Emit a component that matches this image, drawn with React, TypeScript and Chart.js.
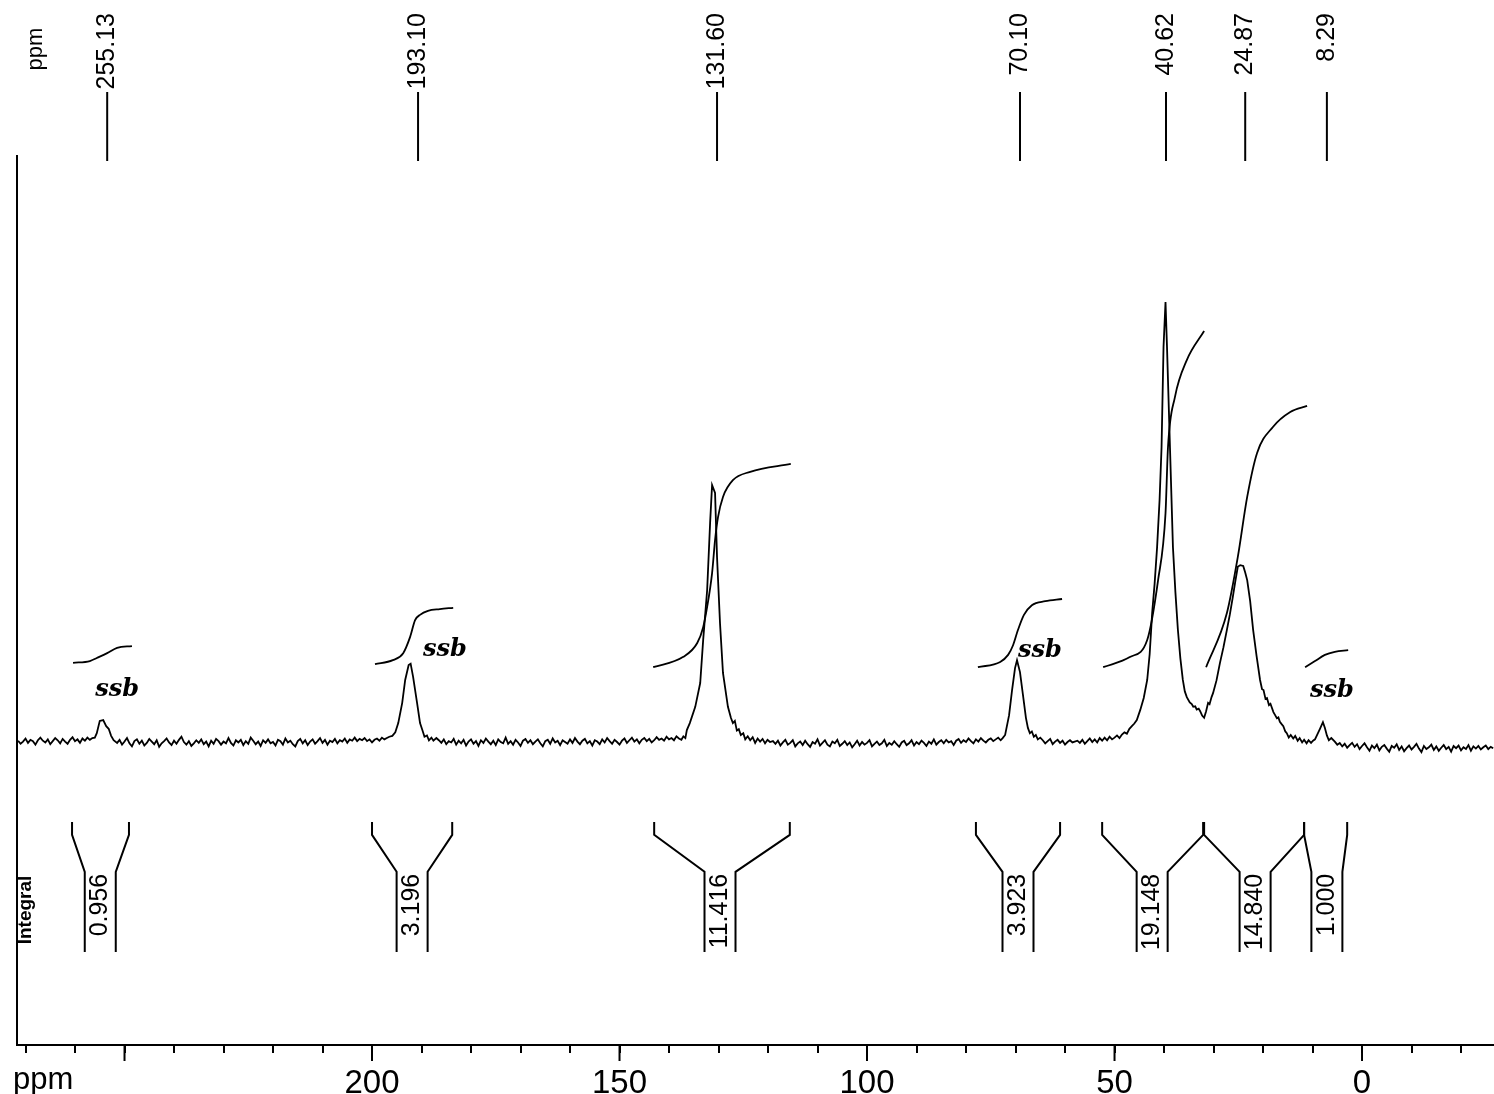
import { useEffect, useRef } from 'react';
import { Chart, registerables } from 'chart.js';

Chart.register(...registerables);

const FONT = '"Liberation Sans", Arial, sans-serif';

// ---- axis ----
const X_MIN = -26.66;
const X_MAX = 271.72;
const Y_MIN = -68.86;
const Y_MAX = 133.41;
const TICK_STEP = 10;
const LABELLED_TICKS = [200, 150, 100, 50, 0];

// ---- peak labels (top): printed value and where its marker stands on the ppm axis ----
const peakLabelText = ['255.13', '193.10', '131.60', '70.10', '40.62', '24.87', '8.29'];
const peakLabelAt = [253.5, 190.7, 130.3, 69.1, 39.6, 23.6, 7.1];

// ---- integrals (bottom brackets) ----
const integralText = ['0.956', '3.196', '11.416', '3.923', '19.148', '14.840', '1.000'];
const integralFrom = [260.6, 200.0, 143.0, 78.0, 52.5, 31.9, 11.7];
const integralTo = [249.1, 183.8, 115.6, 61.0, 32.1, 11.7, 3.0];
const integralCenter = [254.9, 191.9, 129.7, 69.5, 42.4, 21.6, 7.1];

// ---- spinning side band notes ----
const ssbPpm = [251.5, 185.3, 65.1, 6.1];
const ssbVal = [11.8, 20.9, 20.7, 11.6];
const ssbText = ['ssb', 'ssb', 'ssb', 'ssb'];

// ---- spectrum: baseline noise segments (start ppm, 0.5 ppm spacing) ----
const NOISE_STEP = 0.5;
const noiseA = [
  0.3, -0.4, 0.1, 0.8, -0.2, 0.5, 0.2, -0.6, 0.4, 1.0,
  0.3, -0.1, 0.6, -0.5, 0.2, 0.9, 0.4, -0.3, 0.7, 0.1,
  -0.4, 0.5, 1.1, 0.2, 0.6, -0.2, 0.8, 0.3, 1.0, 0.5, 0.9,
];
const noiseB = [
  -0.2, 0.5, -0.6, 0.1, 0.9, -0.3, -1.0, 0.2, 0.6, -0.4,
  0.3, -0.8, -0.2, 0.7, 0.1, -0.5, 0.4, -1.1, -0.3, 0.2,
  0.8, -0.1, -0.7, 0.3, -0.4, 0.5, 1.2, 0.0, -0.6, 0.2,
  -0.9, -0.3, 0.4, -0.2, 0.6, -0.5, 0.1, -1.0, 0.3, -0.4,
  0.7, 0.2, -0.6, 0.1, -0.3, 0.9, -0.2, -0.8, 0.4, -0.1,
  0.5, -0.7, 0.2, -0.4, 1.0, 0.3, -0.5, 0.1, -0.9, 0.4,
  -0.2, 0.6, -0.3, 0.0, -0.8, 0.5, 0.2, -0.6, 0.8, -0.1,
  0.3, -0.5, -1.0, 0.2, 0.7, -0.3, 0.4, -0.7, 0.1, 0.6,
  -0.4, 0.2, 0.9, -0.2, 0.5, -0.6, 0.3, 0.0, 0.7, -0.3,
  0.4, 0.1, 0.8, -0.2, 0.6, 0.3, 1.0, 0.2, 0.7, 0.4,
  0.9, 0.2, 0.6, -0.1, 0.5, 0.8, 0.3, 1.0, 0.6, 0.9,
  1.2,
];
const noiseC = [
  0.9, 0.4, -0.2, 0.6, -0.5, 0.2, -0.1, 0.7, -0.6, 0.3,
  -0.3, 0.5, -0.8, 0.1, 0.6, -0.4, 0.2, -0.9, 0.4, -0.2,
  0.8, 0.1, -0.5, 0.3, -0.7, 0.6, 0.0, -0.3, 1.0, -0.4,
  0.2, -0.6, 0.5, -0.1, -0.9, 0.3, 0.7, -0.2, 0.4, -0.5,
  0.1, 0.6, -0.3, -1.0, 0.2, 0.5, -0.4, 0.8, -0.1, 0.3,
  -0.7, 0.4, 0.0, -0.4, 0.6, -0.2, 0.9, 0.1, -0.5, 0.3,
  0.7, -0.3, 0.2, -0.8, 0.4, 0.1, -0.5, 0.6, -0.1, 0.9,
  0.2, -0.4, 0.5, 0.0, -0.6, 0.3, 0.8, -0.2, 0.4, 1.0,
  0.1, 0.6, -0.3, 0.5, 0.9, 0.2, 0.7, -0.1, 0.4, 1.1,
  0.5, 0.8, 0.3, 1.2, 0.6, 0.9, 0.4, 1.3, 0.8,
];
const noiseD = [
  0.2, -0.4, 0.3, -0.8, -0.1, 0.5, -0.6, -0.2, 0.4, -1.0,
  -0.3, 0.1, -0.7, 0.3, -0.5, -1.1, 0.0, -0.4, 0.6, -0.8,
  -0.2, 0.4, -0.6, -1.0, 0.1, -0.3, 0.5, -0.9, -0.4, 0.2,
  -0.7, -0.1, -1.2, -0.5, 0.3, -0.8, 0.0, -0.6, -0.2, 0.4,
  -1.0, -0.4, 0.1, -0.7, -0.3, 0.5, -0.9, -0.2, -0.6, 0.2,
  -0.5, -1.1, -0.1, 0.3, -0.7, -0.3, 0.4, -0.8, 0.0, -0.5,
  0.3, -0.2, -0.9, 0.1, -0.4, 0.6, -0.6, 0.0, 0.4, -0.3,
  0.5, -0.1, 0.2, -0.7, 0.3, 0.7, -0.2, 0.4, 0.0, 0.8,
  0.2, -0.3, 0.6, 0.1, 0.9, 0.3, -0.1, 0.5, 0.8, 0.2,
  0.6, 1.0, 0.4,
];
const noiseE = [0.4, -0.3, 0.2, 0.7, -0.5, 0.1, 0.5, -0.2, 0.3, -0.6, 0.0, 0.4, -0.1];
const noiseF = [
  0.1, -0.6, -0.2, -1.0, -0.4, -1.3, -0.7, -0.2, -1.1, -0.5,
  -1.6, -0.9, -0.3, -1.2, -2.0, -0.8, -1.4, -0.6, -1.9, -1.1,
  -0.7, -1.5, -2.2, -0.9, -1.3, -0.5, -1.8, -1.0, -2.1, -1.4,
  -0.8, -1.7, -1.1, -0.4, -1.5, -2.3, -0.9, -1.6, -1.2, -0.6,
  -1.8, -1.0, -2.0, -1.3, -0.7, -1.6, -1.1, -2.2, -0.9, -1.4,
  -0.8, -1.9, -1.2, -1.6, -0.7, -2.0, -1.0, -1.5, -0.9, -1.7,
  -1.2, -0.8, -1.6, -1.1, -1.4,
];

// ---- spectrum: peak regions [ppm, intensity] ----
const peak255: [number, number][] = [
  [256.0, 1.0], [255.6, 2.0], [255.0, 4.8], [254.3, 5.0], [253.7, 3.6], [253.2, 3.0], [252.7, 1.4], [252.2, 0.4],
];
const peak193: [number, number][] = [
  [195.9, 1.4], [195.3, 2.2], [194.7, 4.3], [193.9, 8.9], [193.3, 14.1], [192.6, 17.5], [192.2, 17.8],
  [191.7, 14.8], [190.9, 8.9], [190.3, 4.3], [189.8, 2.6], [189.4, 1.2], [188.9, 1.5], [188.5, 0.4], [188.0, 1.0], [187.6, 0.3],
];
const peak131: [number, number][] = [
  [137.5, 0.5], [137.1, 1.3], [136.7, 0.9], [136.4, 2.7], [135.8, 4.3], [134.7, 8.0], [133.7, 13.4], [133.1, 23.2],
  [132.3, 34.5], [131.7, 49.8], [131.3, 58.4], [130.7, 56.6], [130.3, 42.0], [129.7, 27.0], [129.1, 15.7],
  [128.1, 8.0], [127.5, 5.5], [127.1, 4.3], [126.7, 4.8], [126.3, 2.6], [125.9, 2.9], [125.5, 1.6],
  [125.0, 2.0], [124.6, 0.6], [124.1, 1.3], [123.6, 0.4], [123.1, 1.1], [122.6, -0.2], [122.1, 0.8],
  [121.6, 0.1], [121.1, 0.7], [120.6, -0.3], [120.1, 0.5], [119.6, 0.0],
];
const peak70: [number, number][] = [
  [72.6, 0.9], [72.1, 1.6], [71.3, 6.1], [70.7, 11.8], [70.1, 16.8], [69.7, 18.6], [69.1, 15.9],
  [68.5, 10.7], [67.9, 5.5], [67.5, 3.2], [67.1, 2.0], [66.7, 2.4], [66.3, 1.2], [65.9, 1.6], [65.5, 0.6], [65.0, 1.0],
];
const peakAliphatic: [number, number][] = [
  [57.5, 0.3], [57.0, -0.2], [56.5, 0.5], [56.0, -0.4], [55.5, 0.2], [55.0, 0.8], [54.5, 0.0], [54.0, 0.6],
  [53.5, -0.1], [53.0, 0.9], [52.5, 0.3], [52.0, 1.0], [51.5, 0.4], [51.0, 1.2], [50.5, 0.6], [50.0, 1.0],
  [49.5, 1.5], [49.0, 0.9], [48.5, 1.7], [48.0, 2.2], [47.5, 1.9], [47.0, 3.0], [46.5, 3.6], [46.0, 4.2],
  [45.5, 5.0], [44.8, 7.3], [44.1, 10.0], [43.4, 14.1],
  [42.9, 20.0], [42.4, 29.3], [41.9, 36.0], [41.4, 44.3], [40.9, 55.0], [40.5, 67.0], [40.1, 89.8], [39.7, 100],
  [39.4, 89.8], [38.8, 67.0], [38.2, 44.3], [37.7, 34.0], [37.2, 25.5], [36.7, 19.0], [36.2, 14.1], [35.8, 11.5],
  [35.4, 10.2], [34.8, 9.0], [34.4, 8.6], [34.1, 8.0], [33.7, 8.1], [33.4, 7.4], [33.0, 7.6], [32.7, 7.0],
  [32.3, 6.0], [31.9, 5.5], [31.5, 7.0], [31.1, 8.9], [30.8, 8.6], [30.4, 10.2], [30.1, 11.1], [29.4, 14.0],
  [28.7, 18.0], [28.0, 21.5], [27.3, 25.5], [26.7, 29.0], [26.1, 33.0], [25.6, 36.5], [25.1, 39.8], [24.6, 40.2],
  [24.0, 40.0], [23.6, 38.5], [23.2, 36.8], [22.6, 32.0], [22.0, 25.5], [21.3, 19.5], [20.6, 14.1], [20.2, 12.0],
  [19.9, 11.8], [19.5, 9.8], [19.2, 10.0], [18.8, 8.4], [18.5, 8.7], [17.9, 6.8], [17.5, 6.0], [17.2, 5.4],
  [16.9, 5.6], [16.6, 4.6], [16.2, 4.0], [15.9, 3.6], [15.5, 2.4], [15.2, 2.0], [14.8, 1.0], [14.4, 1.6],
  [13.9, 0.8], [13.5, 1.4], [13.0, 0.3], [12.6, 0.9], [12.1, -0.1], [11.7, 0.5], [11.2, -0.3], [10.8, 0.4],
  [10.3, -0.2], [9.9, 0.3], [9.5, 0.6], [9.0, 1.8], [8.5, 3.0], [7.9, 4.5], [7.5, 3.2], [7.1, 1.5],
  [6.7, 0.4], [6.2, 0.9],
];

// ---- integral curves [ppm, value] ----
const int255: [number, number][] = [[260.4, 18.0], [257.0, 18.4], [255.6, 19.1], [253.5, 20.2], [251.5, 21.4], [248.5, 21.8]];
const int193: [number, number][] = [[199.4, 17.7], [195.8, 18.6], [193.7, 20.2], [192.3, 23.9], [191.3, 27.7], [190.3, 28.9], [188.7, 29.8], [186.3, 30.2], [183.6, 30.5]];
const int131: [number, number][] = [[143.2, 17.0], [137.2, 19.3], [134.3, 22.5], [133.1, 26.1], [132.3, 30.7], [131.3, 38.4], [130.7, 45.9], [130.1, 51.1], [129.1, 55.7], [127.1, 59.5], [123.6, 61.4], [115.4, 63.2]];
const int70: [number, number][] = [[77.6, 17.0], [73.1, 18.2], [71.5, 19.8], [70.5, 22.0], [69.5, 25.5], [68.3, 28.9], [66.7, 31.1], [64.0, 32.0], [60.6, 32.5]];
const int40: [number, number][] = [[52.3, 17.0], [46.9, 19.3], [43.4, 23.2], [41.2, 36.8], [39.7, 52.0], [39.2, 67.0], [37.8, 78.4], [35.4, 86.8], [31.9, 93.4]];
const int24: [number, number][] = [[31.5, 17.0], [27.3, 29.3], [25.1, 42.0], [23.2, 55.7], [21.2, 65.7], [18.0, 71.6], [14.5, 75.0], [11.1, 76.4]];
const int8: [number, number][] = [[11.5, 17.0], [9.5, 18.4], [7.5, 19.8], [5.5, 20.5], [2.8, 20.9]];

// ---- helpers ----
const seg = (start: number, vals: number[]) => vals.map((v, i) => ({ x: start - i * NOISE_STEP, y: v }));
const pts = (arr: [number, number][]) => arr.map(([x, y]) => ({ x, y }));

const spectrum = [
  ...seg(271.5, noiseA),
  ...pts(peak255),
  ...seg(251.5, noiseB),
  ...pts(peak193),
  ...seg(187.0, noiseC),
  ...pts(peak131),
  ...seg(119.0, noiseD),
  ...pts(peak70),
  ...seg(64.5, noiseE),
  ...pts(peakAliphatic),
  ...seg(5.5, noiseF),
];

const integralCurves = [int255, int193, int131, int70, int40, int24, int8];

// bracket levels (in intensity units of the y scale)
const BR_TOP = -18.2;
const BR_BEND = -21.1;
const BR_INNER = -29.5;
const BR_BOTTOM = -47.7;
const BR_HALF = 15.5;

function vText(c: CanvasRenderingContext2D, text: string, x: number, y: number, align: CanvasTextAlign) {
  c.save();
  c.translate(x, y);
  c.rotate(-Math.PI / 2);
  c.textAlign = align;
  c.textBaseline = 'middle';
  c.fillText(text, 0, 0);
  c.restore();
}

const decor = {
  id: 'decor',
  beforeDraw(chart: any) {
    const c = chart.ctx as CanvasRenderingContext2D;
    c.save();
    c.fillStyle = '#fff';
    c.fillRect(0, 0, chart.width, chart.height);
    c.restore();
  },
  afterDraw(chart: any) {
    const c = chart.ctx as CanvasRenderingContext2D;
    const xs = chart.scales.x;
    const ys = chart.scales.y;
    const a = chart.chartArea;
    const line = (x1: number, y1: number, x2: number, y2: number) => {
      c.beginPath();
      c.moveTo(x1, y1);
      c.lineTo(x2, y2);
      c.stroke();
    };
    c.save();
    c.strokeStyle = '#000';
    c.fillStyle = '#000';
    c.lineWidth = 2;

    // left frame line
    line(a.left, a.top, a.left, a.bottom + 1);

    // longer major ticks every 50 ppm
    xs.ticks.forEach((t: any) => {
      if (Math.abs(t.value % 50) < 1e-6) {
        const px = xs.getPixelForValue(t.value);
        line(px, a.bottom, px, a.bottom + 16);
      }
    });

    // axis unit at bottom left
    c.font = `31px ${FONT}`;
    c.textAlign = 'left';
    c.textBaseline = 'alphabetic';
    c.fillText('ppm', 13, 1089);

    // peak labels at the top
    c.font = `22px ${FONT}`;
    vText(c, 'ppm', 36, 49, 'center');
    c.font = `25px ${FONT}`;
    peakLabelAt.forEach((p, i) => {
      const px = xs.getPixelForValue(p);
      vText(c, peakLabelText[i], px, 13, 'right');
      line(px, 92, px, 161);
    });

    // integral brackets
    const yTop = ys.getPixelForValue(BR_TOP);
    const yBend = ys.getPixelForValue(BR_BEND);
    const yInner = ys.getPixelForValue(BR_INNER);
    const yBot = ys.getPixelForValue(BR_BOTTOM);
    c.lineJoin = 'miter';
    integralText.forEach((txt, i) => {
      const L = xs.getPixelForValue(integralFrom[i]);
      const R = xs.getPixelForValue(integralTo[i]);
      const C = xs.getPixelForValue(integralCenter[i]);
      c.beginPath();
      c.moveTo(L, yTop);
      c.lineTo(L, yBend);
      c.lineTo(C - BR_HALF, yInner);
      c.lineTo(C - BR_HALF, yBot);
      c.moveTo(R, yTop);
      c.lineTo(R, yBend);
      c.lineTo(C + BR_HALF, yInner);
      c.lineTo(C + BR_HALF, yBot);
      c.stroke();
      c.font = `25px ${FONT}`;
      vText(c, txt, C, yInner + 2, 'right');
    });

    // "Integral" label
    c.font = `bold 19px ${FONT}`;
    vText(c, 'Integral', 26, 910, 'center');

    // handwritten ssb notes
    c.font = `bold italic 24px "DejaVu Serif", serif`;
    c.textAlign = 'center';
    c.textBaseline = 'middle';
    ssbText.forEach((t, i) => {
      c.fillText(t, xs.getPixelForValue(ssbPpm[i]), ys.getPixelForValue(ssbVal[i]));
    });

    c.restore();
  },
};

export default function App() {
  const ref = useRef<HTMLCanvasElement | null>(null);
  useEffect(() => {
    document.body.style.margin = '0';
    const canvas = ref.current;
    if (!canvas) return;
    const chart = new Chart(canvas, {
      type: 'line',
      data: {
        datasets: [
          {
            data: spectrum,
            borderColor: '#000',
            borderWidth: 1.8,
            pointRadius: 0,
            tension: 0,
          },
          ...integralCurves.map((d) => ({
            data: pts(d),
            borderColor: '#000',
            borderWidth: 1.8,
            pointRadius: 0,
            cubicInterpolationMode: 'monotone' as const,
          })),
        ],
      },
      options: {
        animation: false,
        responsive: false,
        devicePixelRatio: 1,
        events: [],
        layout: { padding: { top: 155, left: 17, right: 0, bottom: -20 } },
        plugins: { legend: { display: false }, tooltip: { enabled: false } },
        scales: {
          x: {
            type: 'linear',
            reverse: true,
            min: X_MIN,
            max: X_MAX,
            grid: {
              display: true,
              drawOnChartArea: false,
              drawTicks: true,
              tickLength: 8,
              color: '#000',
              lineWidth: 2,
            },
            border: { display: true, color: '#000', width: 2 },
            ticks: {
              stepSize: TICK_STEP,
              includeBounds: false,
              autoSkip: false,
              maxRotation: 0,
              padding: 14,
              color: '#000',
              font: { family: FONT, size: 33, lineHeight: 1 },
              callback: (v: any) => {
                const n = Math.round(Number(v));
                return LABELLED_TICKS.includes(n) && Math.abs(Number(v) - n) < 1e-6 ? String(n) : '';
              },
            },
          },
          y: { display: false, min: Y_MIN, max: Y_MAX },
        },
      },
      plugins: [decor],
    });
    return () => chart.destroy();
  }, []);
  return <canvas ref={ref} width={1494} height={1094} style={{ display: 'block' }} />;
}
